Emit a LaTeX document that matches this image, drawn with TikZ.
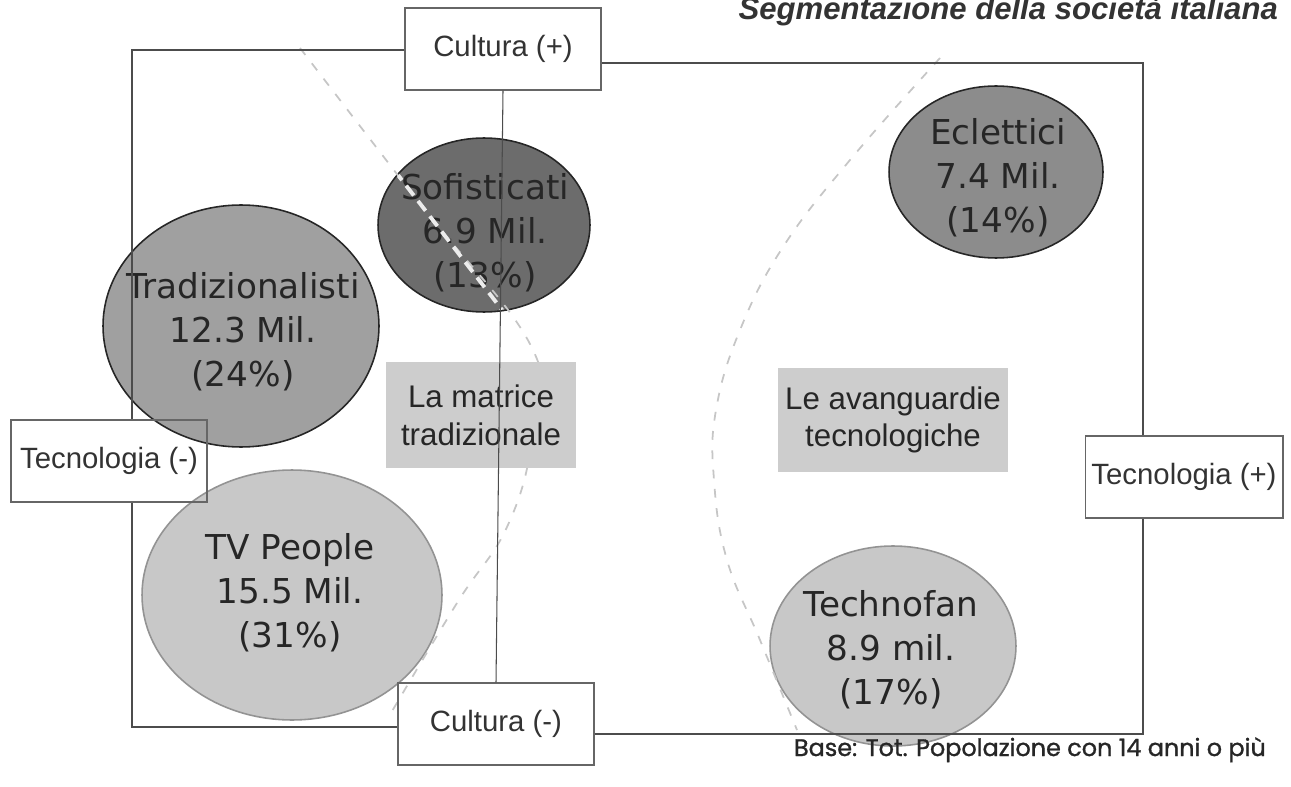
\documentclass[tikz,border=0pt]{standalone}
\usepackage{fontspec}
\usepackage{xcolor}
\usepackage{tikz}
\usetikzlibrary{shapes.geometric}

\newfontfamily\segfont{DejaVu Sans}
\newfontfamily\axisfont{Liberation Sans}
\newfontfamily\basefont[FakeBold=1.2]{Poppins}

\definecolor{sofgray}{HTML}{6C6C6C}
\definecolor{tradgray}{HTML}{A0A0A0}
\definecolor{eclgray}{HTML}{8C8C8C}
\definecolor{lightgray}{HTML}{C8C8C8}
\definecolor{regiongray}{HTML}{CDCDCD}

\begin{document}
\begin{tikzpicture}[
  x=0.02cm, y=-0.02cm,
  seg/.style={ellipse, draw=black!85, line width=0.9pt, inner sep=0pt},
  seglight/.style={seg, draw=gray!85},
  segtext/.style={align=center, inner sep=0pt, text=black!85, font=\segfont\fontsize{19.5}{25}\selectfont},
  axisbox/.style={draw=black!60, line width=0.6pt, minimum width=3.92cm, minimum height=1.64cm, font=\axisfont\fontsize{16.7}{20}\selectfont, text=black!80},
  region/.style={fill=regiongray, inner sep=0pt, align=center, font=\axisfont\fontsize{17.8}{21.5}\selectfont, text=black!85},
  frame/.style={draw=black!70, line width=0.6pt},
  divider/.style={draw=gray!45, line width=1pt, dash pattern=on 5pt off 6pt},
]
\useasboundingbox (0,0) rectangle (1291,787);

% segments
\node[seg, fill=tradgray, minimum width=5.52cm, minimum height=4.84cm] (tradiz) at (241,326) {};
\node[seg, fill=sofgray, minimum width=4.24cm, minimum height=3.48cm] (sofist) at (484,225) {};
\node[seglight, fill=lightgray, minimum width=6cm, minimum height=5cm] (tvpeople) at (292,595) {};
\node[seg, fill=eclgray, minimum width=4.28cm, minimum height=3.44cm] (eclett) at (996,172) {};
\node[seglight, fill=lightgray, minimum width=4.92cm, minimum height=4cm] (technofan) at (893,646) {};

\node[segtext] (tradizlbl) at (243,332) {Tradizionalisti\\12.3 Mil.\\(24\%)};
\node[segtext] (sofistlbl) at (485,233) {Sofisticati\\6.9 Mil.\\(13\%)};
\node[segtext] (tvpeoplelbl) at (290,593) {TV People\\15.5 Mil.\\(31\%)};
\node[segtext] (ecletlbl) at (998,178) {Eclettici\\7.4 Mil.\\(14\%)};
\node[segtext] (technofanlbl) at (891,650) {Technofan\\8.9 mil.\\(17\%)};

% area borders
\draw[divider] plot[smooth, tension=0.7] coordinates {(300,48) (420,204) (533,350) (532,440) (507,527) (457,603) (388,718)};
\begin{scope}
  \clip (sofist.center) ellipse [x radius=105, y radius=86];
  \draw[white!85!gray, line width=2.2pt, dash pattern=on 7pt off 4pt] (300,48) -- (533,350);
\end{scope}
\draw[divider] plot[smooth, tension=0.7] coordinates {(940,58) (850,160) (783,247) (740,330) (716,410) (714,480) (727,560) (760,640) (797,730)};

\node[region, minimum width=3.8cm, minimum height=2.12cm] (matrice) at (481,415) {La matrice\\tradizionale};
\node[region, minimum width=4.6cm, minimum height=2.08cm] (avang) at (893,420) {Le avanguardie\\tecnologiche};

% axes
\node[axisbox] (cplus) at (503,49) {Cultura (+)};
\node[axisbox] (cminus) at (496,724) {Cultura (-)};
\node[axisbox] (tminus) at (109,461) {Tecnologia (-)};
\node[axisbox, minimum width=3.96cm] (tplus) at (1184,477) {Tecnologia (+)};

\coordinate (tl) at (132,50);
\coordinate (tr) at (1143,63);
\coordinate (bl) at (132,727);
\coordinate (br) at (1143,734);

\draw[frame] (cplus.west |- tl) -- (tl) -- (tl |- tminus.north);
\draw[frame] (tl |- tminus.south) -- (bl) -- (bl -| cminus.west);
\draw[frame] (cminus.east |- br) -- (br) -- (br |- tplus.south);
\draw[frame] (br |- tplus.north) -- (tr) -- (tr -| cplus.east);
\draw[frame] (cplus.south) -- (cminus.north);

\node[anchor=base east, font=\axisfont\bfseries\itshape\fontsize{17.7}{20}\selectfont, text=black!80] (title) at (1284,20) {Segmentazione della società italiana};
\node[anchor=base east, font=\basefont\fontsize{13.6}{15}\selectfont, text=black!85] (basenote) at (1272,756) {Base: Tot. Popolazione con 14 anni o più};

\end{tikzpicture}
\end{document}
